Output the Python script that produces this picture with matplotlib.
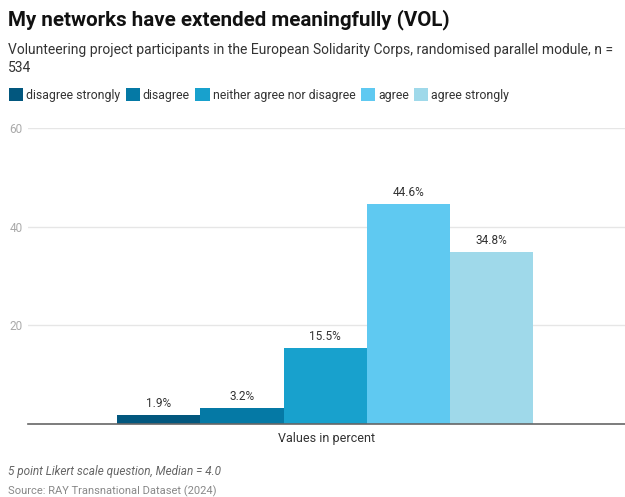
import matplotlib.pyplot as plt
from matplotlib.patches import Patch

plt.rcParams['font.family'] = ['Roboto', 'DejaVu Sans']

# data
categories = ['disagree strongly', 'disagree', 'neither agree nor disagree', 'agree', 'agree strongly']
values = [1.9, 3.2, 15.5, 44.6, 34.8]
colors = ['#02577e', '#0579a5', '#18a1cd', '#5fc9f1', '#9fd9ea']
yticks = [20, 40, 60]

W, H = 625, 497
fig = plt.figure(figsize=(W / 100, H / 100), dpi=100)
ax = fig.add_axes([28 / W, 1 - 424 / H, (625 - 28) / W, (424 - 128) / H])

xs = range(len(values))
bars = ax.bar(xs, values, width=1.0, color=colors, zorder=2)
for b, v in zip(bars, values):
    ax.annotate(f'{v}%', (b.get_x() + b.get_width() / 2, v), xytext=(0, 3.5),
                textcoords='offset points', ha='center', va='bottom',
                fontsize=8.5, color='#333333')

ax.set_xlim(-1.57, 5.6)
ax.set_ylim(0, 60)
ax.set_yticks(yticks)
ax.set_yticklabels([str(t) for t in yticks])
ax.tick_params(axis='y', length=0, labelsize=8.5, labelcolor='#aaaaaa', pad=4)
ax.set_xticks([])
ax.grid(axis='y', color='#e6e6e6', linewidth=1, zorder=0)
for s in ['top', 'right', 'left']:
    ax.spines[s].set_visible(False)
ax.spines['bottom'].set_color('#666666')
ax.spines['bottom'].set_linewidth(1.2)
ax.spines['bottom'].set_zorder(3)
ax.set_xlabel('Values in percent', fontsize=9, color='#333333', labelpad=6)

# titles
fig.text(8 / W, 1 - 20 / H, 'My networks have extended meaningfully (VOL)',
         fontsize=14.8, fontweight='bold', color='#111111', va='center')
fig.text(8 / W, 1 - 50 / H, 'Volunteering project participants in the European Solidarity Corps, randomised parallel module, n =',
         fontsize=10, color='#333333', va='center')
fig.text(8 / W, 1 - 68 / H, '534', fontsize=10, color='#333333', va='center')

handles = [Patch(facecolor=c, edgecolor='none') for c in colors]
fig.legend(handles, categories, loc='center left', bbox_to_anchor=(9 / W, 1 - 95 / H),
           ncol=5, frameon=False, fontsize=8.8, handlelength=1.15, handleheight=1.15,
           handletextpad=0.25, columnspacing=0.45, borderaxespad=0, borderpad=0,
           labelcolor='#333333')

# footer
fig.text(8 / W, 1 - 472 / H, '5 point Likert scale question, Median = 4.0',
         fontsize=8.5, style='italic', color='#666666', va='center')
fig.text(8 / W, 1 - 491 / H, 'Source: RAY Transnational Dataset (2024)',
         fontsize=8, color='#888888', va='center')

fig.savefig('out.png', dpi=100)
